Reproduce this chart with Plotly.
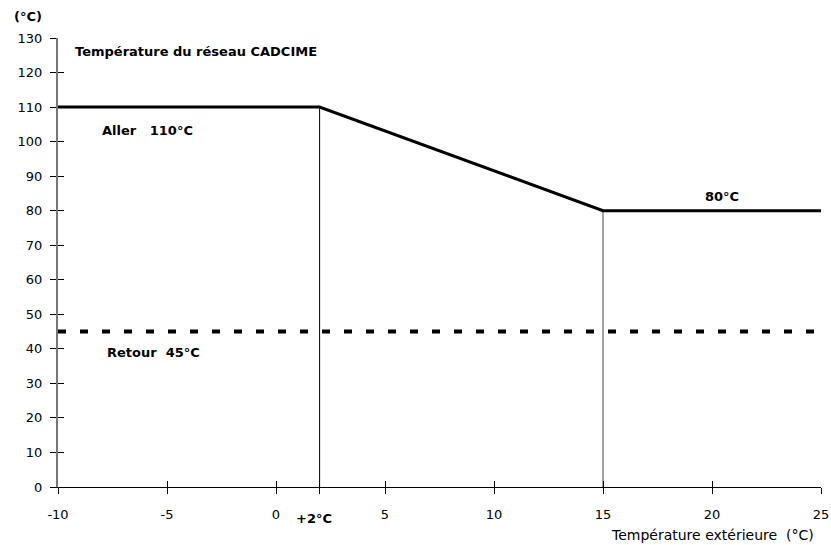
import plotly.graph_objects as go

# Data
aller_x = [-10, 2, 15, 25]
aller_y = [110, 110, 80, 80]
retour_x = [-10, 25]
retour_y = [45, 45]
v1_x = [2, 2]
v1_y = [0, 110]
v2_x = [15, 15]
v2_y = [0, 80]
x_tickvals = [-10, -5, 0, 2, 5, 10, 15, 20, 25]
x_ticktext = ["-10", "-5", "0", "", "5", "10", "15", "20", "25"]
y_tickvals = list(range(0, 131, 10))

FONT = "DejaVu Sans, Arial, sans-serif"
FS = 13

L, T, PW, PH = 58, 38, 763, 449  # plot area in pixels
W, H = 831, 545

fig = go.Figure()
fig.add_trace(go.Scatter(x=v1_x, y=v1_y, mode="lines", line=dict(color="black", width=1), showlegend=False, hoverinfo="skip"))
fig.add_trace(go.Scatter(x=v2_x, y=v2_y, mode="lines", line=dict(color="#444", width=1), showlegend=False, hoverinfo="skip"))
fig.add_trace(go.Scatter(x=aller_x, y=aller_y, mode="lines", line=dict(color="black", width=3), showlegend=False))
fig.add_trace(go.Scatter(x=retour_x, y=retour_y, mode="lines", line=dict(color="black", width=4, dash="8px,14px"), showlegend=False))
# invisible trace for the overlay axes (inner tick halves)
fig.add_trace(go.Scatter(x=[-10], y=[0], xaxis="x2", yaxis="y2", mode="markers", marker=dict(opacity=0), showlegend=False, hoverinfo="skip"))

annots = [
    dict(x=-9.31, y=126, text="<b>Température du réseau CADCIME</b>", xanchor="left"),
    dict(x=-8.07, y=103.3, text="<b>Aller   110°C</b>", xanchor="left"),
    dict(x=-7.84, y=39, text="<b>Retour  45°C</b>", xanchor="left"),
    dict(x=20.46, y=84, text="<b>80°C</b>", xanchor="center"),
]
for a in annots:
    fig.add_annotation(x=a["x"], y=a["y"], text=a["text"], xanchor=a["xanchor"], yanchor="middle",
                       showarrow=False, font=dict(family=FONT, size=FS, color="black"))

def px(xp):
    return (xp - L) / PW

def py(yp):
    return (T + PH - yp) / PH

fig.add_annotation(x=px(12), y=py(17), xref="paper", yref="paper", text="<b>(°C)</b>", showarrow=False,
                   font=dict(family=FONT, size=FS, color="black"), xanchor="left", yanchor="middle")
fig.add_annotation(x=px(816), y=py(535), xref="paper", yref="paper",
                   text="Température extérieure  (°C)", showarrow=False,
                   font=dict(family=FONT, size=14, color="black"), xanchor="right", yanchor="middle")
# bold "+2°C" label under the breakpoint
fig.add_annotation(x=v1_x[0], y=py(518), xref="x", yref="paper", xshift=-6, text="<b>+2°C</b>",
                   showarrow=False, font=dict(family=FONT, size=FS, color="black"),
                   xanchor="center", yanchor="middle")

fig.update_layout(
    width=W, height=H, autosize=False,
    margin=dict(l=L, r=W - L - PW, t=T, b=H - T - PH, autoexpand=False),
    paper_bgcolor="white", plot_bgcolor="white",
    font=dict(family=FONT, size=FS, color="black"),
    xaxis=dict(range=[-10, 25], tickvals=x_tickvals, ticktext=x_ticktext, ticks="outside", ticklen=6,
               tickcolor="black", tickwidth=1, showline=True, linecolor="black", linewidth=1,
               showgrid=False, zeroline=False, tickfont=dict(size=FS), fixedrange=True,
               ticklabelstandoff=9, automargin=False),
    yaxis=dict(range=[0, 130], tickvals=y_tickvals, ticks="outside", ticklen=6, tickcolor="black",
               tickwidth=1, showline=True, linecolor="#777", linewidth=2, showgrid=False,
               zeroline=False, tickfont=dict(size=FS), fixedrange=True, ticklabelstandoff=5,
               automargin=False),
    xaxis2=dict(range=[-10, 25], overlaying="x", tickvals=x_tickvals, ticks="inside", ticklen=6,
                tickcolor="black", tickwidth=1, showticklabels=False, showline=False, showgrid=False,
                zeroline=False, side="bottom", anchor="y2", fixedrange=True),
    yaxis2=dict(range=[0, 130], overlaying="y", tickvals=y_tickvals, ticks="inside", ticklen=6,
                tickcolor="black", tickwidth=1, showticklabels=False, showline=False, showgrid=False,
                zeroline=False, side="left", anchor="x2", fixedrange=True),
)

fig.write_html("out.html", config={"responsive": False, "displayModeBar": False},
               post_script="document.body.style.margin='0';document.body.style.overflow='hidden';")
